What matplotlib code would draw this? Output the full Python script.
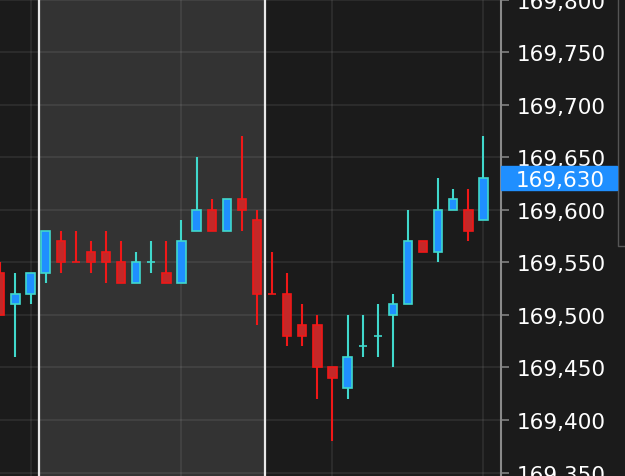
import matplotlib
matplotlib.use("Agg")
import matplotlib.pyplot as plt
from matplotlib.ticker import FuncFormatter
from matplotlib.lines import Line2D
from matplotlib.patches import Rectangle
import numpy as np

# OHLC per bar
opens = [169540, 169510, 169520, 169540, 169570, 169550, 169560, 169560, 169550, 169530, 169550,
         169540, 169530, 169580, 169600, 169580, 169610, 169590, 169520, 169520, 169490, 169490,
         169450, 169430, 169470, 169480, 169500, 169510, 169570, 169560, 169600, 169600, 169590]
closes = [169500, 169520, 169540, 169580, 169550, 169550, 169550, 169550, 169530, 169550, 169550,
          169530, 169570, 169600, 169580, 169610, 169600, 169520, 169520, 169480, 169480, 169450,
          169440, 169460, 169470, 169480, 169510, 169570, 169560, 169600, 169610, 169580, 169630]
highs = [169550, 169540, 169540, 169580, 169580, 169580, 169570, 169580, 169570, 169560, 169570,
         169570, 169590, 169650, 169610, 169610, 169670, 169600, 169560, 169540, 169510, 169500,
         169450, 169500, 169500, 169510, 169520, 169600, 169570, 169630, 169620, 169620, 169670]
lows = [169500, 169460, 169510, 169530, 169540, 169550, 169540, 169530, 169530, 169530, 169540,
        169530, 169530, 169580, 169580, 169580, 169580, 169490, 169520, 169470, 169470, 169420,
        169380, 169420, 169460, 169460, 169450, 169510, 169560, 169550, 169600, 169570, 169590]
# 1 = rising candle, 0 = falling (needed for the dojis)
rising = [0, 1, 1, 1, 0, 0, 0, 0, 0, 1, 1,
          0, 1, 1, 0, 1, 0, 0, 0, 0, 0, 0,
          0, 1, 1, 1, 1, 1, 0, 1, 1, 0, 1]
last_price = 169630
price_ticks = [169350, 169400, 169450, 169500, 169550, 169600, 169650, 169700, 169750, 169800]

BG = '#1b1b1b'
UP_FILL, UP_EDGE = '#1f8fff', '#40d8cc'
DN_FILL, DN_EDGE = '#c42828', '#f01818'

fig = plt.figure(figsize=(6.25, 4.77), dpi=100)
fig.patch.set_facecolor(BG)
ax = fig.add_axes([0, 0, 501 / 625, 1])
ax.set_facecolor(BG)

x = np.arange(len(opens))
o = np.array(opens)
c = np.array(closes)
up = np.array(rising, dtype=bool)

# highlighted session
span_lo, span_hi = 2.56, 17.53
ax.axvspan(span_lo, span_hi, color='#333333', zorder=0, lw=0)
for xv in (span_lo, span_hi):
    ax.axvline(xv, color='#e8e8e8', lw=1.6, zorder=3)

# wicks
ax.vlines(x[up], np.array(lows)[up], np.array(highs)[up], color=UP_EDGE, lw=1.5, zorder=4)
ax.vlines(x[~up], np.array(lows)[~up], np.array(highs)[~up], color=DN_EDGE, lw=1.5, zorder=4)

# bodies
bottom = np.minimum(o, c)
height = np.abs(c - o)
ax.bar(x[up], height[up], bottom=bottom[up], width=0.55, color=UP_FILL,
       edgecolor=UP_EDGE, linewidth=1.2, zorder=5)
ax.bar(x[~up], height[~up], bottom=bottom[~up], width=0.55, color=DN_FILL,
       edgecolor=DN_EDGE, linewidth=1.2, zorder=5)

ax.set_xlim(-0.02, 33.16)
ax.set_ylim(169346.7, 169800.7)

ax.set_yticks(price_ticks)
ax.yaxis.tick_right()
ax.yaxis.set_major_formatter(FuncFormatter(lambda v, p: f"{v:,.0f}"))
ax.tick_params(axis='y', colors='#808080', labelcolor='white', length=5.5, width=1.2,
               pad=5.5, labelsize=15.5)
ax.set_xticks([2, 12, 22, 32])
ax.tick_params(axis='x', length=0, labelbottom=False)

ax.set_axisbelow(True)
ax.grid(True, color='white', alpha=0.07, lw=1.5)

for s in ('top', 'bottom', 'left'):
    ax.spines[s].set_visible(False)
ax.spines['right'].set_color('#8a8a8a')
ax.spines['right'].set_linewidth(1.5)

# scrollbar edge
fig.lines.append(Line2D([618 / 625, 618 / 625, 1], [1, 1 - 247 / 477, 1 - 247 / 477],
                        transform=fig.transFigure, color='#555555', lw=1))

# last price marker
y_px = ax.transData.transform((0, last_price))[1]
fig.patches.append(Rectangle((501 / 625, (y_px - 12) / 477), 116 / 625, 24 / 477,
                             transform=fig.transFigure, color='#1f8fff', zorder=2))
fig.text(516 / 625, y_px / 477, f"{last_price:,}", va='center_baseline', ha='left',
         color='white', fontsize=15.5, zorder=5)

fig.savefig('out.png', dpi=100, facecolor=BG)
